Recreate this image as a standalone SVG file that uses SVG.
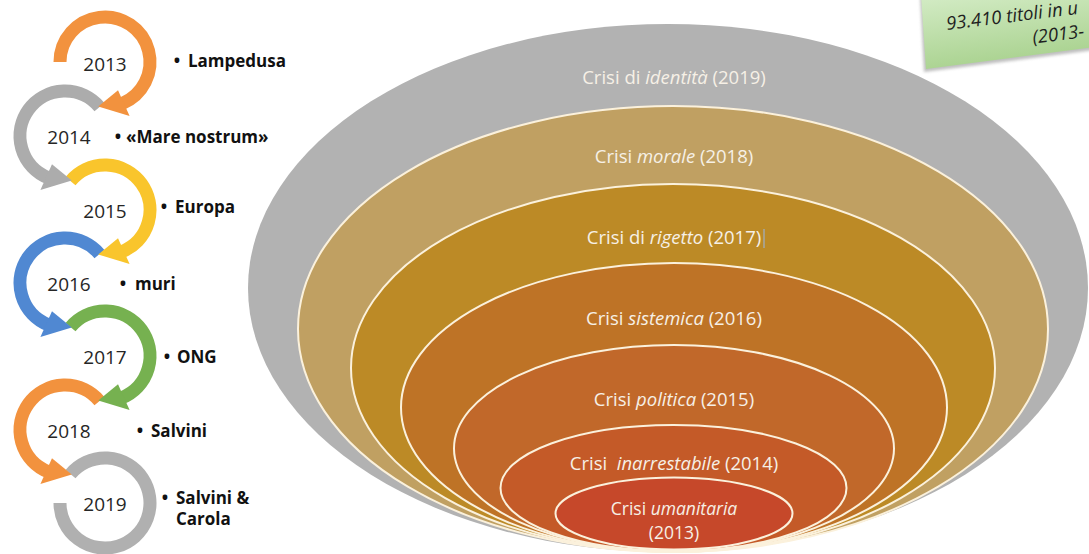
<svg xmlns="http://www.w3.org/2000/svg" width="1089" height="554" viewBox="0 0 1089 554">
<style>
.yr{font-family:"Open Sans","Liberation Sans",sans-serif;font-size:19px;fill:#262626;text-anchor:middle}
.lbl{font-family:"Open Sans","Liberation Sans",sans-serif;font-weight:700;font-size:17px;fill:#111}
.bul{font-family:"Open Sans","Liberation Sans",sans-serif;font-weight:700;font-size:17px;fill:#111;text-anchor:middle}
.crisi{font-family:"Open Sans","Liberation Sans",sans-serif;font-size:18.5px;fill:#f6f0e6;text-anchor:middle}
.sm{font-size:17.5px}
.ring{fill:none;stroke-width:13;stroke-linecap:butt}
.ell{stroke:#fbf1dc;stroke-width:2}
.note{font-family:"Open Sans","Liberation Sans",sans-serif;font-style:italic;font-size:18.5px;fill:#1f1f1f}
</style>
<defs>
<linearGradient id="gg" x1="0" y1="0" x2="0.3" y2="1">
<stop offset="0" stop-color="#d4ecc6"/>
<stop offset="1" stop-color="#a9d28f"/>
</linearGradient>
<filter id="blur" x="-10%" y="-30%" width="130%" height="160%">
<feGaussianBlur stdDeviation="1.8"/>
</filter>
</defs>
<rect width="1089" height="554" fill="#fff"/>

<!-- Nested crisis ellipses -->
<g id="crisi-2019">
<ellipse cx="668" cy="288" rx="420" ry="264" fill="#b2b2b2"/>
<text class="crisi" x="674" y="84">Crisi di <tspan font-style="italic">identità</tspan> (2019)</text>
</g>
<g id="crisi-2018">
<ellipse class="ell" cx="673" cy="329" rx="375" ry="223" fill="#c0a062"/>
<text class="crisi" x="674" y="163">Crisi <tspan font-style="italic">morale</tspan> (2018)</text>
</g>
<g id="crisi-2017">
<ellipse class="ell" cx="673" cy="368" rx="322" ry="184" fill="#bc8a26"/>
<text class="crisi" x="674" y="244">Crisi di <tspan font-style="italic">rigetto</tspan> (2017)</text>
<line x1="764" y1="229" x2="764" y2="248" stroke="#9fb0c6" stroke-width="1.2"/>
</g>
<g id="crisi-2016">
<ellipse class="ell" cx="674" cy="407.5" rx="273" ry="144.5" fill="#be7326"/>
<text class="crisi" x="674" y="325">Crisi <tspan font-style="italic">sistemica</tspan> (2016)</text>
</g>
<g id="crisi-2015">
<ellipse class="ell" cx="674" cy="448.5" rx="220" ry="103.5" fill="#c1682a"/>
<text class="crisi" x="674" y="406">Crisi <tspan font-style="italic">politica</tspan> (2015)</text>
</g>
<g id="crisi-2014">
<ellipse class="ell" cx="673.5" cy="488" rx="173" ry="63" fill="#c45a28"/>
<text class="crisi" x="674" y="470" xml:space="preserve">Crisi  <tspan font-style="italic">inarrestabile</tspan> (2014)</text>
</g>
<g id="crisi-2013">
<ellipse class="ell" cx="674" cy="513.5" rx="118.5" ry="36" fill="#c6482a"/>
<text class="crisi sm" x="674" y="515">Crisi <tspan font-style="italic">umanitaria</tspan></text>
<text class="crisi sm" x="674" y="539">(2013)</text>
</g>

<!-- Timeline circular arrows (drawn bottom-up so arrowheads overlap next ring) -->
<g id="anno-2019">
<path class="ring" stroke="#b0b0b0" d="M70.53,474.07 A45,45 0 1 1 60,503"/>
<text class="yr" x="105" y="511">2019</text>
<text class="bul" x="165" y="504">•</text>
<text class="lbl" x="176" y="504">Salvini &amp;</text>
<text class="lbl" x="176" y="525">Carola</text>
</g>
<g id="anno-2018">
<path class="ring" stroke="#f2923e" d="M99.47,401.07 A45,45 0 1 0 48.14,471.72"/>
<polygon fill="#f2923e" points="51.99,458.23 40.41,483.98 71.76,474.56"/>
<text class="yr" x="69" y="438">2018</text>
<text class="bul" x="140" y="437">•</text>
<text class="lbl" x="151" y="437">Salvini</text>
</g>
<g id="anno-2017">
<path class="ring" stroke="#76b150" d="M70.53,327.07 A45,45 0 1 1 121.86,397.72"/>
<polygon fill="#76b150" points="118.01,384.23 129.59,409.98 98.24,400.56"/>
<text class="yr" x="105" y="364">2017</text>
<text class="bul" x="167" y="363">•</text>
<text class="lbl" x="177" y="363">ONG</text>
</g>
<g id="anno-2016">
<path class="ring" stroke="#5088d2" d="M99.47,254.07 A45,45 0 1 0 48.14,324.72"/>
<polygon fill="#5088d2" points="51.99,311.23 40.41,336.98 71.76,327.56"/>
<text class="yr" x="69" y="291">2016</text>
<text class="bul" x="123" y="290">•</text>
<text class="lbl" x="135" y="290">muri</text>
</g>
<g id="anno-2015">
<path class="ring" stroke="#f9c52c" d="M70.53,181.07 A45,45 0 1 1 121.86,251.72"/>
<polygon fill="#f9c52c" points="118.01,238.23 129.59,263.98 98.24,254.56"/>
<text class="yr" x="105" y="218">2015</text>
<text class="bul" x="164" y="213">•</text>
<text class="lbl" x="175" y="213">Europa</text>
</g>
<g id="anno-2014">
<path class="ring" stroke="#acacac" d="M99.47,107.07 A45,45 0 1 0 48.14,177.72"/>
<polygon fill="#acacac" points="51.99,164.23 40.41,189.98 71.76,180.56"/>
<text class="yr" x="69" y="144">2014</text>
<text class="bul" x="118" y="143">•</text>
<text class="lbl" x="126" y="143">«Mare nostrum»</text>
</g>
<g id="anno-2013">
<path class="ring" stroke="#f2923e" d="M60,62 A45,45 0 1 1 121.86,103.72"/>
<polygon fill="#f2923e" points="118.01,90.23 129.59,115.98 98.24,106.56"/>
<text class="yr" x="105" y="71">2013</text>
<text class="bul" x="177" y="67">•</text>
<text class="lbl" x="188" y="67">Lampedusa</text>
</g>

<g id="connectors"></g>

<!-- Green note box -->
<g id="nota">
<polygon points="920,-5 1095,-5 1095,50 924,72" fill="#8a8a8a" opacity="0.55" filter="url(#blur)"/>
<polygon points="921,-5 1095,-5 1095,47 926,69" fill="url(#gg)"/>
<text class="note" transform="translate(947,30) rotate(-7)" x="0" y="0">93.410 titoli in u</text>
<text class="note" transform="translate(947,30) rotate(-7)" x="84" y="24">(2013-</text>
</g>
</svg>
